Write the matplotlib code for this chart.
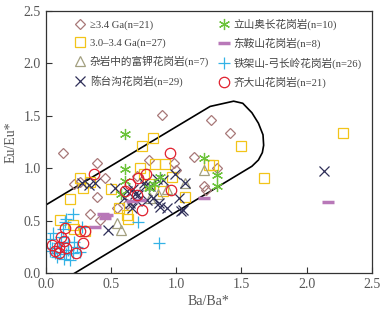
import numpy as np
import matplotlib.pyplot as plt

plt.rcParams['font.family'] = ['Liberation Serif', 'Noto Sans CJK SC']

# Ba/Ba*, Eu/Eu*
ga34_x = [0.13, 0.39, 0.26, 0.455, 0.39, 0.34, 0.42, 0.89, 0.79, 0.98, 1.14,
          1.21, 1.23, 1.27, 1.41, 1.31, 0.22, 0.70, 1.00, 0.62, 0.55]
ga34_y = [1.15, 1.05, 0.87, 0.91, 0.73, 0.57, 0.51, 1.51, 1.08, 1.05, 1.11,
          0.83, 0.79, 1.46, 1.34, 1.00, 0.85, 0.93, 0.98, 0.66, 0.62]

ga30_x = [0.825, 0.74, 0.26, 0.285, 0.19, 0.11, 0.21, 0.34, 0.72, 0.84, 0.915,
          0.97, 1.07, 1.25, 0.62, 0.63, 0.30, 1.50, 1.285, 1.67, 2.28,
          0.75, 0.80, 0.56, 0.22, 0.50, 0.90]
ga30_y = [1.29, 1.21, 0.91, 0.81, 0.71, 0.51, 0.46, 0.87, 1.00, 1.04, 1.04,
          0.92, 0.725, 1.03, 0.556, 0.52, 0.40, 1.21, 1.03, 0.91, 1.335,
          0.95, 0.85, 0.62, 0.42, 0.80, 0.78]

kgr_x = [1.21, 1.07, 0.86, 0.545, 0.58, 0.80, 0.93]
kgr_y = [0.98, 0.86, 0.76, 0.48, 0.41, 0.72, 0.80]

ctg_x = [0.28, 0.38, 0.33, 0.48, 0.53, 0.60, 0.65, 0.66, 0.685, 0.67, 0.71,
         0.75, 0.76, 0.80, 0.82, 0.865, 0.875, 0.90, 0.93, 0.99, 1.02, 1.04,
         1.05, 1.07, 0.70, 0.62, 0.85, 0.78, 2.13]
ctg_y = [0.865, 0.865, 0.84, 0.41, 0.81, 0.72, 0.67, 0.62, 0.76, 0.80, 0.75,
         0.86, 0.83, 0.83, 0.72, 0.67, 0.635, 0.89, 0.62, 0.95, 0.72, 0.59,
         0.60, 0.86, 0.69, 0.78, 0.90, 0.70, 0.976]

lsh_x = [0.61, 0.61, 0.61, 0.58, 0.88, 0.79, 1.21, 1.31, 1.31, 0.83]
lsh_y = [1.33, 0.99, 0.88, 0.76, 0.92, 0.81, 1.10, 0.94, 0.83, 0.85]

das_x = [0.38, 0.44, 0.47, 0.455, 0.66, 0.72, 1.21, 2.165]
das_y = [0.445, 0.57, 0.556, 0.525, 0.69, 0.70, 0.716, 0.677]

tjs_x = [0.21, 0.16, 0.15, 0.06, 0.03, 0.10, 0.12, 0.175, 0.07, 0.21, 0.24,
         0.14, 0.19, 0.05, 0.12, 0.17, 0.09, 0.26, 0.03, 0.22, 0.11, 0.16,
         0.28, 0.13, 0.71, 0.87]
tjs_y = [0.57, 0.52, 0.49, 0.38, 0.33, 0.29, 0.35, 0.22, 0.19, 0.19, 0.25,
         0.14, 0.13, 0.24, 0.26, 0.30, 0.16, 0.20, 0.21, 0.30, 0.20, 0.18,
         0.44, 0.42, 0.49, 0.29]

qds_x = [0.95, 0.37, 0.77, 0.71, 0.61, 0.70, 0.74, 0.96, 0.15, 0.12, 0.30,
         0.29, 0.10, 0.10, 0.16, 0.23, 0.07, 0.14, 0.26, 0.65, 0.05]
qds_y = [1.145, 0.95, 0.95, 0.91, 0.78, 0.75, 0.60, 0.79, 0.43, 0.35, 0.40,
         0.29, 0.25, 0.19, 0.24, 0.19, 0.21, 0.31, 0.40, 0.85, 0.27]

# field boundary
field_x = [0.0, 1.26, 1.44, 1.51, 1.58, 1.63, 1.665, 1.67, 1.66, 1.63, 1.58, 0.22]
field_y = [0.65, 1.59, 1.64, 1.62, 1.53, 1.43, 1.32, 1.22, 1.15, 1.08, 1.02, 0.0]

fig = plt.figure(figsize=(3.8, 3.11), dpi=100)
ax = fig.add_axes([0.12, 0.121, 0.859, 0.844])

ax.plot(field_x, field_y, color='black', lw=1.2, zorder=1)

mew = 0.9
ax.plot(ga34_x, ga34_y, 'D', ms=5.5, mfc='none', mec='#a87878', mew=mew,
        ls='none', label='≥3.4 Ga(n=21)')
ax.plot(ga30_x, ga30_y, 's', ms=7.5, mfc='none', mec='#f2c419', mew=mew,
        ls='none', label='3.0–3.4 Ga(n=27)')
ax.plot(kgr_x, kgr_y, '^', ms=7.5, mfc='none', mec='#a3a080', mew=mew,
        ls='none', label='杂岩中的富钾花岗岩(n=7)')
ax.plot(ctg_x, ctg_y, 'x', ms=7.5, mec='#2e2e58', mew=mew,
        ls='none', label='陈台沟花岗岩(n=29)')
ax.plot(lsh_x, lsh_y, marker=(6, 2, 0), ms=8, mec='#6cc33a', mew=mew,
        ls='none', label='立山奥长花岗岩(n=10)')
ax.plot(das_x, das_y, '_', ms=8, mec='#b878b8', mew=2.5,
        ls='none', label='东鞍山花岗岩(n=8)')
ax.plot(tjs_x, tjs_y, '+', ms=8, mec='#33b2e6', mew=mew,
        ls='none', label='铁架山-弓长岭花岗岩(n=26)')
ax.plot(qds_x, qds_y, 'o', ms=7.5, mfc='none', mec='#e0202e', mew=mew,
        ls='none', label='齐大山花岗岩(n=21)')

ax.set_xlim(0, 2.5)
ax.set_ylim(0, 2.5)
ax.set_xticks(np.arange(0, 2.51, 0.5))
ax.set_yticks(np.arange(0, 2.51, 0.5))
ax.xaxis.set_major_formatter(plt.FormatStrFormatter('%.1f'))
ax.yaxis.set_major_formatter(plt.FormatStrFormatter('%.1f'))
ax.tick_params(direction='in', length=4, width=0.8, colors='#333333',
               labelsize=10, labelcolor='#555555')
for s in ax.spines.values():
    s.set_color('#333333')
    s.set_linewidth(0.9)

ax.set_xlabel('Ba/Ba*', fontsize=10, color='#555555', labelpad=3)
ax.set_ylabel('Eu/Eu*', fontsize=10, color='#555555', labelpad=4)

ax.legend(ncol=2, loc='upper left', bbox_to_anchor=(0.07, 0.995),
          frameon=False, fontsize=7.7, handlelength=1.0, handletextpad=0.4,
          labelspacing=0.75, columnspacing=0.9, borderaxespad=0.2,
          labelcolor='#444444')

fig.savefig('out.png', dpi=100)
